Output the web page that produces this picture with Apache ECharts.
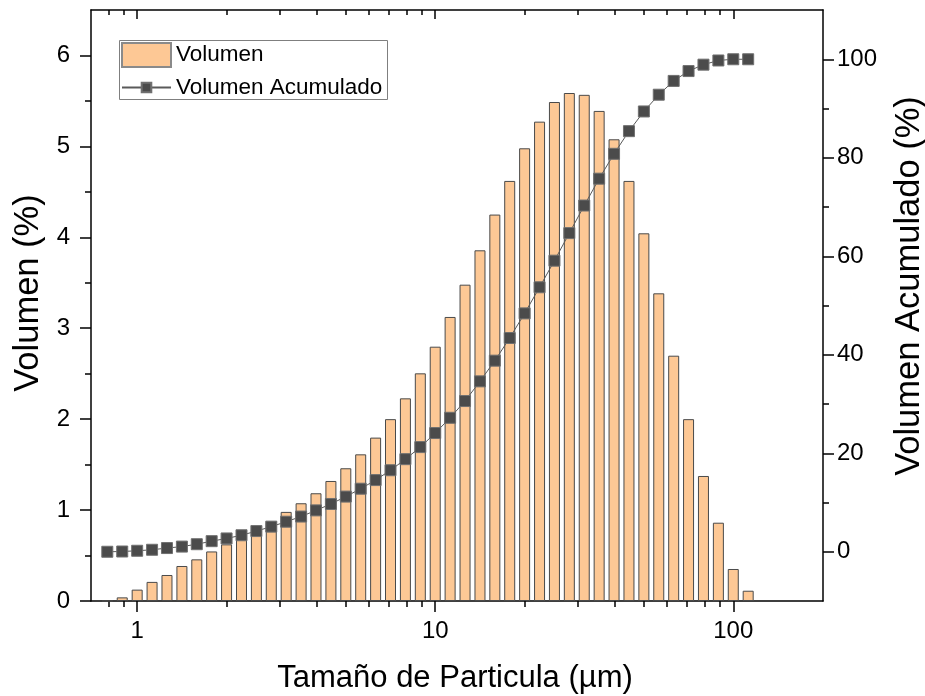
<!DOCTYPE html>
<html><head><meta charset="utf-8">
<script src="https://cdn.jsdelivr.net/npm/echarts@6/dist/echarts.min.js"></script>
<style>html,body{margin:0;padding:0;background:#fff}#c{width:925px;height:696px}</style>
</head><body><div id="c"></div>
<script>
// Particle size (µm) of each bin
const sizes = [0.794, 0.891, 1.000, 1.122, 1.259, 1.413, 1.585, 1.778, 1.995, 2.239, 2.512, 2.818, 3.162, 3.548, 3.981, 4.467, 5.012, 5.623, 6.310, 7.079, 7.943, 8.913, 10.00, 11.22, 12.59, 14.13, 15.85, 17.78, 19.95, 22.39, 25.12, 28.18, 31.62, 35.48, 39.81, 44.67, 50.12, 56.23, 63.10, 70.79, 79.43, 89.13, 100.0, 112.2];
// Volumen (%)
const volumen = [0, 0.04, 0.125, 0.21, 0.286, 0.385, 0.458, 0.545, 0.623, 0.70, 0.78, 0.87, 0.98, 1.075, 1.185, 1.32, 1.46, 1.613, 1.797, 2.00, 2.229, 2.504, 2.797, 3.124, 3.479, 3.857, 4.25, 4.62, 4.979, 5.272, 5.488, 5.587, 5.567, 5.39, 5.078, 4.62, 4.044, 3.384, 2.698, 2.00, 1.375, 0.861, 0.352, 0.113];
// Volumen Acumulado (%)
const acumulado = [0, 0.05, 0.2, 0.4, 0.75, 1.05, 1.53, 2.15, 2.7, 3.35, 4.2, 5.1, 6.1, 7.15, 8.4, 9.7, 11.2, 12.8, 14.55, 16.55, 18.8, 21.25, 24.1, 27.2, 30.6, 34.6, 38.8, 43.4, 48.4, 53.7, 59.1, 64.7, 70.3, 75.75, 80.8, 85.4, 89.4, 92.8, 95.6, 97.6, 98.9, 99.75, 100, 100];
// Tick values
const xMajorTicks = [1, 10, 100];
const xMinorTicks = [0.8, 0.9, 2, 3, 4, 5, 6, 7, 8, 9, 20, 30, 40, 50, 60, 70, 80, 90];
const yLeftTicks = [0, 1, 2, 3, 4, 5, 6];
const yLeftMinor = [0.5, 1.5, 2.5, 3.5, 4.5, 5.5];
const yRightTicks = [0, 20, 40, 60, 80, 100];
const yRightMinor = [10, 30, 50, 70, 90];

const FONT = 'Liberation Sans, Arial, sans-serif';
const chart = echarts.init(document.getElementById('c'), null, {renderer: 'canvas'});
const axisLineStyle = {color: '#000', width: 1.5};
const noLine = {show: false, onZero: false};

function xAxis(pos, ticks, len, inside, showLine, labels) {
  return {
    type: 'log', logBase: 10, min: 0.7, max: 200, position: pos, gridIndex: 0,
    axisLine: showLine ? {show: true, onZero: false, lineStyle: axisLineStyle} : noLine,
    axisTick: {show: true, inside: inside, length: len, customValues: ticks, lineStyle: {color: '#000', width: 1.5}},
    axisLabel: labels ? {show: true, customValues: ticks, fontSize: 24, color: '#000', fontFamily: FONT, margin: 18} : {show: false},
    splitLine: {show: false}, minorTick: {show: false}
  };
}
function yAxis(pos, min, max, ticks, len, showLine, labels, margin) {
  return {
    type: 'value', min: min, max: max, position: pos, gridIndex: 0,
    axisLine: showLine ? {show: true, onZero: false, lineStyle: axisLineStyle} : noLine,
    axisTick: {show: true, inside: false, length: len, customValues: ticks, lineStyle: {color: '#000', width: 1.5}},
    axisLabel: labels ? {show: true, customValues: ticks, fontSize: 24, color: '#000', fontFamily: FONT, margin: margin} : {show: false},
    splitLine: {show: false}, minorTick: {show: false}
  };
}

const barData = sizes.map((s, i) => [s, volumen[i]]);
const lineData = sizes.map((s, i) => [s, acumulado[i]]);

chart.setOption({
  animation: false,
  backgroundColor: '#fff',
  textStyle: {fontFamily: FONT},
  grid: {left: 91, top: 10, width: 732, height: 591, containLabel: false, outerBoundsMode: 'none'},
  xAxis: [
    xAxis('bottom', xMajorTicks, 11, false, true, true),
    xAxis('bottom', xMinorTicks, 6, false, false, false),
    xAxis('top', xMajorTicks, 9, true, true, false),
    xAxis('top', xMinorTicks, 5, true, false, false)
  ],
  yAxis: [
    yAxis('left', 0, 6.5, yLeftTicks, 11, true, true, 21),
    yAxis('right', -10, 110, yRightTicks, 11, true, true, 14),
    yAxis('left', 0, 6.5, yLeftMinor, 6, false, false, 0),
    yAxis('right', -10, 110, yRightMinor, 6, false, false, 0)
  ],
  legend: [
    {data: [{name: 'Volumen', icon: 'rect', itemStyle: {borderColor: '#8a8a8a'}}], left: 121, top: 42, orient: 'vertical', padding: 0,
     itemWidth: 49, itemHeight: 24, selectedMode: false, textStyle: {fontSize: 22.5, color: '#000', fontFamily: FONT}},
    {data: [{name: 'Volumen Acumulado'}], left: 121, top: 76, orient: 'vertical', padding: 0,
     itemWidth: 49, itemHeight: 12, selectedMode: false, textStyle: {fontSize: 22.5, color: '#000', fontFamily: FONT}}
  ],
  graphic: [
    {type: 'rect', left: 117, top: 38, shape: {width: 268, height: 59}, style: {fill: 'none', stroke: '#7f7f7f', lineWidth: 1}, z: 10},
    {type: 'text', x: 455, y: 678, style: {text: 'Tamaño de Particula (µm)', font: '31px ' + FONT, fill: '#000', textAlign: 'center', textVerticalAlign: 'middle'}},
    {type: 'text', x: 28, y: 293, rotation: Math.PI / 2, style: {text: 'Volumen (%)', font: '34.5px ' + FONT, fill: '#000', textAlign: 'center', textVerticalAlign: 'middle'}},
    {type: 'text', x: 909, y: 286, rotation: Math.PI / 2, style: {text: 'Volumen Acumulado (%)', font: '34.5px ' + FONT, fill: '#000', textAlign: 'center', textVerticalAlign: 'middle'}}
  ],
  series: [
    {name: 'Volumen', type: 'bar', xAxisIndex: 0, yAxisIndex: 0, data: barData, barWidth: 11,
     itemStyle: {color: '#FDC895', borderColor: '#4a4a4a', borderWidth: 1}},
    {name: 'Volumen Acumulado', type: 'line', xAxisIndex: 0, yAxisIndex: 1, data: lineData,
     symbol: 'rect', symbolSize: 11, showSymbol: true,
     lineStyle: {color: '#5a5a5a', width: 1},
     itemStyle: {color: '#4b4b4b', borderColor: '#707070', borderWidth: 1}, z: 5}
  ]
});
</script></body></html>
